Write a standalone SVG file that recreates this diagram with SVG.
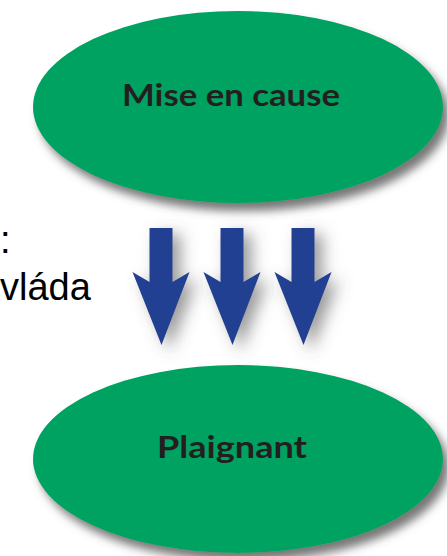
<svg xmlns="http://www.w3.org/2000/svg" width="447" height="556" viewBox="0 0 447 556">
  <style>
    .node { fill: #00A262; filter: url(#sh); }
    .lbl { font-family: Lato, "Liberation Sans", Arial, sans-serif; font-weight: bold; fill: #231F20; }
    .side { font-family: "Liberation Sans", Arial, sans-serif; font-size: 38px; fill: #000; }
    .arr { fill: #243F91; filter: url(#sh2); }
  </style>
  <defs>
    <filter id="sh" x="-20%" y="-20%" width="140%" height="150%">
      <feDropShadow dx="6" dy="8" stdDeviation="5" flood-color="#4a4a4a" flood-opacity="0.75"/>
    </filter>
    <filter id="sh2" x="-60%" y="-30%" width="220%" height="170%">
      <feDropShadow dx="8" dy="6" stdDeviation="8" flood-color="#555" flood-opacity="0.6"/>
    </filter>
    <path id="arrow" d="M-11.5,0 L11.5,0 L11.5,54 L28.5,44 L0.5,117 L-28.5,44 L-11.5,54 Z"/>
  </defs>
  <rect width="447" height="556" fill="#ffffff"/>
  <g id="side-text">
    <text class="side" x="0" y="253">:</text>
    <text class="side" x="0" y="300">vláda</text>
  </g>
  <g id="connectors">
    <use href="#arrow" class="arr" x="161" y="228"/>
    <use href="#arrow" class="arr" x="232" y="228"/>
    <use href="#arrow" class="arr" x="303" y="228"/>
  </g>
  <g id="node-mise">
    <ellipse class="node" cx="238" cy="107" rx="205" ry="96"/>
    <text class="lbl" x="122" y="106" font-size="31" textLength="218" lengthAdjust="spacingAndGlyphs">Mise en cause</text>
  </g>
  <g id="node-plaignant">
    <ellipse class="node" cx="238" cy="459" rx="205" ry="94"/>
    <text class="lbl" x="157" y="458" font-size="30" textLength="150" lengthAdjust="spacingAndGlyphs">Plaignant</text>
  </g>
</svg>
